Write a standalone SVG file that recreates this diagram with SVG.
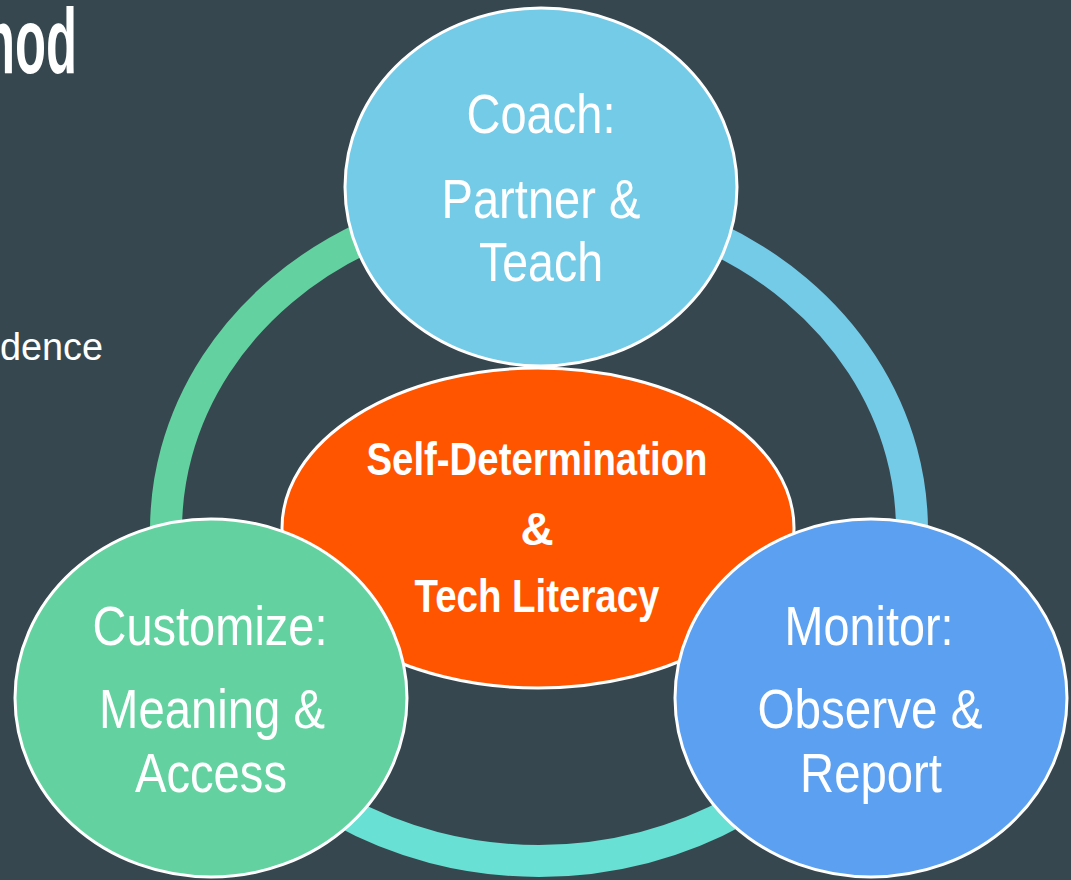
<svg xmlns="http://www.w3.org/2000/svg" width="1071" height="880" viewBox="0 0 1071 880">
  <style>
    .bg { fill: #37474F; }
    .ring { fill: none; stroke-width: 32; stroke-linecap: butt; }
    .node { stroke: #FFFFFF; stroke-width: 3; }
    .label { fill: #FFFFFF; font-family: "Liberation Sans", Arial, sans-serif; font-weight: 400; font-size: 56px; text-anchor: middle; }
    .core { fill: #FFFFFF; font-family: "Liberation Sans", Arial, sans-serif; font-weight: 700; font-size: 46px; text-anchor: middle; }
    .side { fill: #FFFFFF; font-family: "Liberation Sans", Arial, sans-serif; }
  </style>

  <rect class="bg" x="0" y="0" width="1071" height="880"/>

  <!-- slide text at the left edge -->
  <text class="side" x="-16" y="73" font-size="92" font-weight="700" textLength="93" lengthAdjust="spacingAndGlyphs">hod</text>
  <text class="side" x="0" y="360" font-size="38" textLength="103" lengthAdjust="spacingAndGlyphs">dence</text>

  <!-- cycle ring joining the three practices (elliptical track) -->
  <g id="connectors">
    <path class="ring" stroke="#74CBE8" d="M539 199 A373 331 0 0 1 862 695.5"/>
    <path class="ring" stroke="#69E0D4" d="M862 695.5 A373 331 0 0 1 216 695.5"/>
    <path class="ring" stroke="#63D2A0" d="M216 695.5 A373 331 0 0 1 539 199"/>
  </g>

  <g id="core">
    <ellipse class="node" cx="538" cy="528" rx="256" ry="160" fill="#FF5500"/>
    <text class="core" x="537" y="475" textLength="341" lengthAdjust="spacingAndGlyphs">Self-Determination</text>
    <text class="core" x="537" y="545">&amp;</text>
    <text class="core" x="537" y="612" textLength="245" lengthAdjust="spacingAndGlyphs">Tech Literacy</text>
  </g>

  <g id="coach">
    <ellipse class="node" cx="541" cy="187" rx="196" ry="179" fill="#74CBE8"/>
    <text class="label" x="541" y="133" textLength="149" lengthAdjust="spacingAndGlyphs">Coach:</text>
    <text class="label" x="541" y="218" textLength="199" lengthAdjust="spacingAndGlyphs">Partner &amp;</text>
    <text class="label" x="541" y="281" textLength="124" lengthAdjust="spacingAndGlyphs">Teach</text>
  </g>

  <g id="customize">
    <ellipse class="node" cx="211" cy="698" rx="196" ry="179" fill="#64D2A0"/>
    <text class="label" x="210" y="645" textLength="235" lengthAdjust="spacingAndGlyphs">Customize:</text>
    <text class="label" x="212" y="728" textLength="226" lengthAdjust="spacingAndGlyphs">Meaning &amp;</text>
    <text class="label" x="211" y="792" textLength="152" lengthAdjust="spacingAndGlyphs">Access</text>
  </g>

  <g id="monitor">
    <ellipse class="node" cx="871" cy="698" rx="196" ry="179" fill="#5CA0F2"/>
    <text class="label" x="869" y="645" textLength="169" lengthAdjust="spacingAndGlyphs">Monitor:</text>
    <text class="label" x="870" y="728" textLength="225" lengthAdjust="spacingAndGlyphs">Observe &amp;</text>
    <text class="label" x="871" y="792" textLength="142" lengthAdjust="spacingAndGlyphs">Report</text>
  </g>
</svg>
